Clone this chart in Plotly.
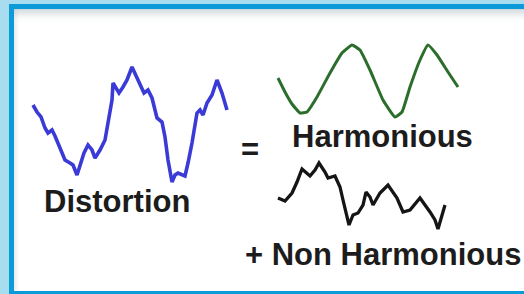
import plotly.graph_objects as go

W, H = 524, 294

# ---- data (time units / amplitude units) ----
distortion_t = [1, 5, 9, 11, 13, 16, 20, 23, 28, 33, 38, 41, 45, 48, 52, 56, 60, 63, 68, 73, 76, 80, 81, 85, 87,
                91, 95, 100, 105, 110, 112, 116, 120, 125, 130, 133, 136, 140, 143, 146, 153, 156, 160, 165,
                168, 171, 175, 180, 185, 190, 195]
distortion_v = [19, 12, 7, 2, -4, -9, -6, -12, -23, -36, -39, -41, -51, -41, -29, -21, -26, -34, -26, -16, 2, 24,
                41, 34, 31, 37, 44, 57, 47, 36, 31, 34, 26, 6, 2, -13, -36, -58, -51, -49, -52, -39, -19, 11,
                14, 9, 21, 29, 44, 31, 14]

harmonious_t = [0, 7, 14, 22, 29, 39, 52, 64, 74, 82, 92, 105, 117, 124, 132, 142, 150, 159, 170, 180]
harmonious_v = [3, -11, -23, -32, -31, -16, 8, 28, 36, 31, 11, -19, -36, -31, -6, 21, 36, 26, 9, -6]

non_harmonious_t = [0, 7, 14, 19, 24, 32, 37, 41, 47, 50, 57, 62, 65, 69, 71, 75, 80, 85, 88, 92, 95, 102, 110,
                    119, 125, 132, 142, 152, 157, 160, 167]
non_harmonious_v = [-2, -5, 3, 14, 27, 20, 26, 33, 24, 18, 20, 9, -4, -19, -29, -19, -17, -9, 4, -1, -9, 3, 11,
                    -2, -16, -14, -2, -16, -24, -33, -9]

labels = ["Distortion", "=", "Harmonious", "+ Non Harmonious"]

# ---- layout helpers (pixel boxes) ----
def xdom(p0, p1):
    return [p0 / W, p1 / W]

def ydom(top, bottom):
    return [(H - bottom) / H, (H - top) / H]

fig = go.Figure()

fig.update_layout(
    xaxis=dict(range=[0, W], domain=[0, 1], visible=False, fixedrange=True),
    yaxis=dict(range=[H, 0], domain=[0, 1], visible=False, fixedrange=True),
)

fig.add_trace(go.Scatter(x=distortion_t, y=distortion_v, mode="lines",
                         line=dict(color="#3a3ad6", width=3.6), xaxis="x2", yaxis="y2",
                         hoverinfo="skip", showlegend=False))
fig.add_trace(go.Scatter(x=harmonious_t, y=harmonious_v, mode="lines",
                         line=dict(color="#2b6e2b", width=3, shape="spline", smoothing=0.35),
                         xaxis="x3", yaxis="y3", hoverinfo="skip", showlegend=False))
fig.add_trace(go.Scatter(x=non_harmonious_t, y=non_harmonious_v, mode="lines",
                         line=dict(color="#151515", width=3.3), xaxis="x4", yaxis="y4",
                         hoverinfo="skip", showlegend=False))

ax = dict(visible=False, fixedrange=True)
fig.update_layout(
    xaxis2=dict(ax, range=[-6, 202], domain=xdom(26, 234), anchor="y2"),
    yaxis2=dict(ax, range=[-64, 64], domain=ydom(60, 188), anchor="x2"),
    xaxis3=dict(ax, range=[-6, 186], domain=xdom(272, 464), anchor="y3"),
    yaxis3=dict(ax, range=[-42, 42], domain=ydom(39, 123), anchor="x3"),
    xaxis4=dict(ax, range=[-6, 173], domain=xdom(272, 451), anchor="y4"),
    yaxis4=dict(ax, range=[-38, 39], domain=ydom(157, 234), anchor="x4"),
)

# frame
shapes = []
shapes.append(dict(type="rect", xref="x", yref="y", x0=9, x1=W + 5, y0=4, y1=H + 5,
                   fillcolor="#0a9bd8", line=dict(width=0), layer="below"))
shapes.append(dict(type="rect", xref="x", yref="y", x0=14, x1=W + 5, y0=9, y1=291,
                   fillcolor="#ffffff", line=dict(width=0), layer="below"))
for i, op in enumerate([0.55, 0.45, 0.36, 0.28, 0.21, 0.15, 0.10, 0.06, 0.03]):
    shapes.append(dict(type="rect", xref="x", yref="y", x0=14, x1=W + 5, y0=9 + i * 1.3, y1=9 + (i + 1) * 1.3,
                       fillcolor="#a9b8be", opacity=op, line=dict(width=0), layer="below"))
for i, op in enumerate([0.25, 0.16, 0.09, 0.04]):
    shapes.append(dict(type="rect", xref="x", yref="y", x0=14 + i * 1.3, x1=14 + (i + 1) * 1.3, y0=9, y1=291,
                       fillcolor="#a9b8be", opacity=op, line=dict(width=0), layer="below"))

font = dict(family="Liberation Sans, Arial, sans-serif", size=31, color="#1c1c1c", weight="bold")
anns = [
    dict(text=labels[0], x=117, y=201),
    dict(text=labels[1], x=250, y=149),
    dict(text=labels[2], x=382, y=136),
    dict(text=labels[3], x=383, y=254),
]
annotations = [dict(a, xref="x", yref="y", showarrow=False, xanchor="center", yanchor="middle", font=font)
               for a in anns]

fig.update_layout(
    width=W, height=H, margin=dict(l=0, r=0, t=0, b=0),
    paper_bgcolor="#a8dcef", plot_bgcolor="rgba(0,0,0,0)",
    shapes=shapes, annotations=annotations, showlegend=False,
)

fig.write_html("out.html", config=dict(displayModeBar=False, staticPlot=True),
               post_script="document.body.style.margin='0';document.body.style.overflow='hidden';")
